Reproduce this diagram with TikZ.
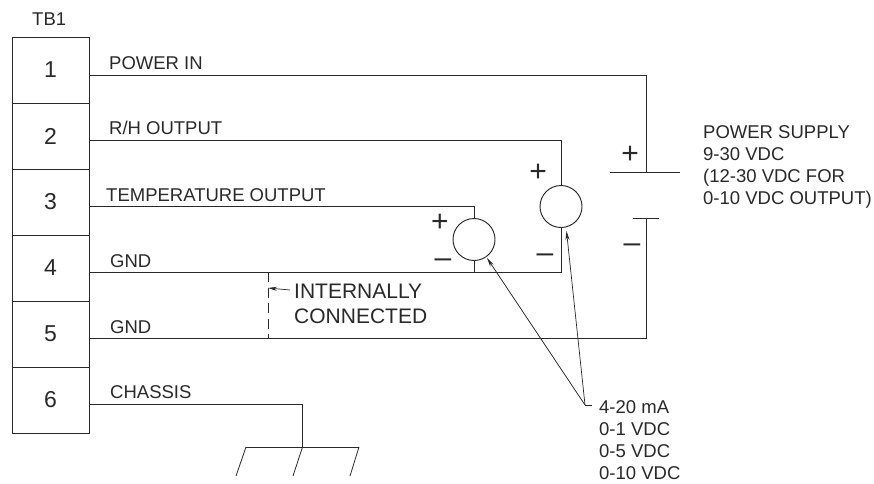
\documentclass[tikz,border=0pt]{standalone}
\usepackage{fontspec}
\setmainfont{Liberation Sans}
\usetikzlibrary{arrows.meta}
\definecolor{ink}{gray}{0.16}
\tikzset{
  wire/.style={draw=ink,line width=0.95pt},
  thin wire/.style={draw=ink,line width=0.8pt},
  term/.style={draw=ink,line width=0.95pt,minimum width=77pt,minimum height=66pt,inner sep=0pt,font=\fontsize{23}{23}\selectfont,text=ink},
  lbl/.style={anchor=base west,inner sep=0pt,font=\fontsize{18.5}{22}\selectfont,text=ink},
  sign/.style={inner sep=0pt,font=\fontsize{30}{30}\selectfont,text=ink},
  meter/.style={circle,draw=ink,line width=0.95pt,minimum size=42pt,inner sep=0pt},
  lead/.style={draw=ink,line width=0.7pt,-{Stealth[length=9pt,width=4pt]}}
}
\begin{document}
\begin{tikzpicture}[x=1pt,y=-1pt]
\useasboundingbox (0,0) rectangle (874,483);
\fill[white] (0,0) rectangle (874,483);
% terminals
\node[term] (t1) at (50.5,70) {1};
\node[term] (t2) at (50.5,136) {2};
\node[term] (t3) at (50.5,202) {3};
\node[term] (t4) at (50.5,268) {4};
\node[term] (t5) at (50.5,334) {5};
\node[term] (t6) at (50.5,400) {6};
\node[lbl] (tb) at (32,25) {TB1};
% labels
\node[lbl] (lp) at (109,69) {POWER IN};
\node[lbl] (lr) at (109,134) {R/H OUTPUT};
\node[lbl] (lt) at (106,201) {TEMPERATURE OUTPUT};
\node[lbl] (lg4) at (110,267) {GND};
\node[lbl] (lg5) at (110,333) {GND};
\node[lbl] (lc) at (110,398) {CHASSIS};
% meters
\node[meter] (m1) at (561,206.5) {};
\node[meter] (m2) at (474,239.5) {};
% helper coordinates
\coordinate (p1) at (89,75);
\coordinate (bplus) at (646.5,172);
\coordinate (bminus) at (646.5,218);
\coordinate (r1) at (89,140);
\coordinate (r4) at (89,272);
\coordinate (r5) at (89,338);
\coordinate (r3) at (89,206);
\coordinate (r6) at (89,404);
\coordinate (gndc) at (302.5,447);
\coordinate (gndl) at (246,447);
\coordinate (gndr) at (359,447);
\coordinate (dt) at (268,272);
\coordinate (db) at (268,338);
\coordinate (jn) at (585,405);
\coordinate (it) at (290,290);
\coordinate (ih) at (268,288);
% wires
\draw[wire] (p1) -- (646.5,75) -- (bplus);
\draw[wire] (610,172) -- (680,172);
\draw[wire] (633,218) -- (659,218);
\draw[wire] (bminus) -- (646.5,338) -- (r5);
\draw[wire] (r1) -- (561,140) -- (m1.north);
\draw[wire] (m1.south) -- (561,272) -- (r4);
\draw[wire] (r3) -- (474,206) -- (m2.north);
\draw[wire] (m2.south) -- (474,272);
\draw[wire] (r6) -- (302.5,404) -- (gndc);
\draw[wire] (gndl) -- (gndr);
\draw[thin wire] (gndl) -- (236,476);
\draw[thin wire] (gndc) -- (293,476);
\draw[thin wire] (gndr) -- (350,476);
\draw[thin wire,dash pattern=on 10pt off 5.5pt] (dt) -- (db);
% battery/meter signs
\node[sign] (s1) at (630,155) {+};
\node[sign] (s2) at (538,173) {+};
\node[sign] (s3) at (440,223) {+};
\node[sign] (s4) at (632,248) {–};
\node[sign] (s5) at (545,258) {–};
\node[sign] (s6) at (443,263) {–};
% texts
\node[lbl,align=left,anchor=north west,font=\fontsize{18.5}{22}\selectfont] (ps) at (703,125) {POWER SUPPLY\\9-30 VDC\\(12-30 VDC FOR\\0-10 VDC OUTPUT)};
\node[lbl,align=left,anchor=north west,font=\fontsize{21}{25}\selectfont] (ic) at (294,284) {INTERNALLY\\CONNECTED};
\node[lbl,align=left,anchor=north west,font=\fontsize{18.5}{22}\selectfont] (rng) at (599,400) {4-20 mA\\0-1 VDC\\0-5 VDC\\0-10 VDC};
% leaders
\draw[thin wire] (jn) -- (592,405);
\draw[lead] (jn) -- (487,258);
\draw[lead] (jn) -- (566.5,231);
\draw[lead] (it) -- (ih);
\end{tikzpicture}
\end{document}
